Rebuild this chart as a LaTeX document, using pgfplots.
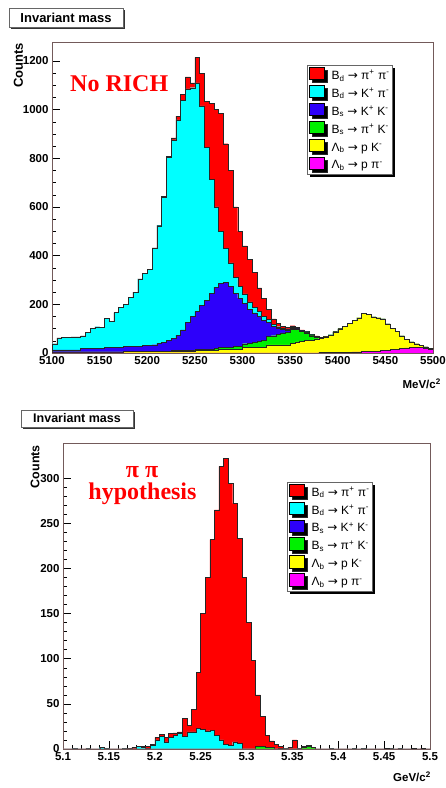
\documentclass[border=0pt]{standalone}
\usepackage{pgfplots}
\pgfplotsset{compat=1.18}
\usepackage{pgfplotstable}
\usepackage{fontspec}
\setmainfont{Liberation Sans}
\newfontfamily\serifbold{Liberation Serif}
\newfontfamily\symfont{DejaVu Sans}
\usetikzlibrary{shadows}

\definecolor{hred}{RGB}{255,0,0}
\definecolor{hcyan}{RGB}{0,255,255}
\definecolor{hblue}{RGB}{45,0,250}
\definecolor{hgreen}{RGB}{0,240,0}
\definecolor{hyellow}{RGB}{255,255,0}
\definecolor{hmagenta}{RGB}{255,0,255}
\definecolor{framec}{RGB}{115,90,90}

\newcommand{\arr}{{\symfont →}}
\newcommand{\sub}[1]{\textsubscript{#1}}
\newcommand{\sups}[1]{\textsuperscript{#1}}

% Stacked invariant-mass histograms, 5 MeV bins (left bin edges); last row closes the final bin.
% columns: m = Lb->p pi, y = Lb->p K, g = Bs->pi K, b = Bs->K K, c = Bd->K pi, r = Bd->pi pi
\pgfplotstableread{
x m y g b c r
5100 0 5 0 8 25 0
5105 0 5 0 8 49 0
5110 0 5 0 8 51 0
5115 0 5 0 8 50 0
5120 0 5 0 8 53 0
5125 0 5 0 8 53 0
5130 0 5 0 13 52 0
5135 0 5 0 13 66 0
5140 0 5 0 13 82 0
5145 0 5 0 13 90 0
5150 0 5 0 13 88 0
5155 0 5 0 17 120 0
5160 0 5 0 17 108 0
5165 0 5 0 17 144 0
5170 0 5 0 17 166 0
5175 1 5 0 20 174 0
5180 1 5 0 20 202 0
5185 1 5 0 20 224 0
5190 1 5 0 20 279 0
5195 1 5 0 24 298 0
5200 1 7 0 22 315 0
5205 1 7 0 26 398 0
5210 1 7 0 32 483 2
5215 1 7 0 37 596 3
5220 1 7 0 44 751 5
5225 1 7 2 50 816 8
5230 1 7 2 62 886 15
5235 1 7 2 85 942 25
5240 1 7 2 115 960 50
5245 1 7 2 140 940 20
5250 1 10 4 155 940 105
5255 1 10 4 180 820 135
5260 1 10 4 200 630 190
5265 1 10 4 230 470 310
5270 1 10 7 252 330 400
5275 1 15 7 262 215 485
5280 1 15 7 267 140 430
5285 1 15 7 252 95 380
5290 1 15 10 219 65 290
5295 1 15 12 197 48 227
5300 1 22 15 167 38 197
5305 1 22 18 139 30 175
5310 1 22 22 120 24 141
5315 1 22 26 101 20 98
5320 1 22 30 82 16 74
5325 1 32 34 58 12 43
5330 1 32 38 39 9 21
5335 1 32 44 25 6 15
5340 1 32 50 14 5 8
5345 1 32 53 9 4 7
5350 1 40 55 5 3 8
5355 1 45 50 3 3 3
5360 1 48 40 2 2 2
5365 1 50 32 2 2 1
5370 1 52 18 1 2 4
5375 1 55 8 1 2 3
5380 2 58 3 1 1 0
5385 2 64 1 0 1 0
5390 3 71 0 0 1 0
5395 3 84 0 0 1 0
5400 3 96 0 0 1 0
5405 4 106 0 0 0 0
5410 4 118 0 0 0 0
5415 5 130 0 0 0 0
5420 5 140 0 0 0 0
5425 6 156 0 0 0 0
5430 6 152 0 0 0 0
5435 7 141 0 0 0 0
5440 8 137 0 0 0 0
5445 10 130 0 0 0 0
5450 12 108 0 0 0 0
5455 14 86 0 0 0 0
5460 16 72 0 0 0 0
5465 19 51 0 0 0 0
5470 21 35 0 0 0 0
5475 22 24 0 0 0 0
5480 23 15 0 0 0 0
5485 22 9 0 0 0 0
5490 20 5 0 0 0 0
5495 16 3 0 0 0 0
5500 16 3 0 0 0 0
}\norich

% Same channels, pi pi mass hypothesis with particle identification, GeV
\pgfplotstableread{
x m y g b c r
5.100 0 0 0 0 0 0
5.105 0 0 0 0 0 0
5.110 0 0 0 0 0 1
5.115 0 0 0 0 0 0
5.120 0 0 0 0 0 0
5.125 0 0 0 0 0 1
5.130 0 0 0 0 0 0
5.135 0 0 0 0 0 0
5.140 0 0 0 0 2 0
5.145 0 0 0 0 0 1
5.150 0 0 0 0 0 0
5.155 0 0 0 0 0 0
5.160 0 0 0 0 0 0
5.165 0 0 0 0 0 1
5.170 0 0 0 0 1 0
5.175 0 0 0 0 0 2
5.180 0 0 0 0 3 0
5.185 0 0 0 0 2 1
5.190 0 0 0 0 1 2
5.195 0 0 0 0 4 1
5.200 0 0 0 0 10 3
5.205 0 0 0 0 14 2
5.210 0 0 0 0 8 5
5.215 0 0 0 0 13 4
5.220 0 0 0 0 15 3
5.225 0 0 0 0 17 2
5.230 0 0 0 0 14 20
5.235 0 0 0 0 19 7
5.240 0 0 0 0 19 25
5.245 0 0 0 0 23 62
5.250 0 0 0 0 22 128
5.255 0 0 0 0 20 170
5.260 0 0 0 0 21 211
5.265 0 0 0 0 15 250
5.270 0 0 0 0 10 303
5.275 0 0 0 0 5 317
5.280 0 0 0 0 4 290
5.285 0 0 0 0 8 264
5.290 0 0 0 0 6 227
5.295 0 0 0 0 0 190
5.300 0 0 0 0 0 140
5.305 0 0 0 0 0 98
5.310 0 0 3 0 0 57
5.315 0 0 3 0 0 33
5.320 0 0 2 0 0 13
5.325 0 0 2 0 0 7
5.330 0 0 0 0 0 5
5.335 0 0 1 0 0 2
5.340 0 0 0 0 0 1
5.345 0 0 0 0 0 2
5.350 0 0 0 0 0 10
5.355 0 0 0 0 0 1
5.360 0 0 2 0 0 1
5.365 0 0 3 0 0 1
5.370 0 0 2 0 0 0
5.375 0 0 0 0 0 0
5.380 0 0 0 0 0 0
5.385 0 0 0 0 0 0
5.390 0 0 0 0 0 1
5.395 0 0 0 0 0 0
5.400 0 0 0 0 0 0
5.405 0 0 0 0 0 0
5.410 0 0 0 0 0 0
5.415 0 0 0 0 0 1
5.420 0 0 0 0 0 0
5.425 0 0 0 0 0 1
5.430 0 0 0 0 0 0
5.435 0 0 0 0 0 0
5.440 0 0 0 0 0 0
5.445 0 0 0 0 0 0
5.450 1 0 0 0 0 0
5.455 0 0 0 0 0 1
5.460 0 0 0 0 0 0
5.465 0 0 0 0 0 1
5.470 0 0 0 0 0 0
5.475 0 0 0 0 0 0
5.480 1 0 0 0 0 0
5.485 0 0 0 0 0 0
5.490 1 0 0 0 0 0
5.495 0 0 0 0 0 0
5.500 0 0 0 0 0 0
}\pipi

\pgfplotsset{
  rootaxis/.style={
    scale only axis,
    axis line style={framec, line width=0.8pt},
    tick style={black, line width=0.5pt},
    tick align=inside,
    tick pos=left,
    major tick length=8pt,
    minor tick length=4pt,
    ticklabel style={font=\fontsize{11.5}{12}\selectfont\bfseries},
    /pgf/number format/assume math mode=true,
    /pgf/number format/1000 sep={},
    scaled ticks=false,
    const plot,
    stack plots=y,
    every axis plot/.append style={draw=black!85, line width=0.4pt},
    reverse legend,
    legend cell align=left,
    legend style={draw=black!60, fill=white, line width=0.5pt,
      font=\fontsize{12}{13}\selectfont,
      drop shadow={shadow xshift=3pt, shadow yshift=-3pt, fill=black, opacity=1},
      inner xsep=2pt, inner ysep=1.5pt, row sep=1.5pt, column sep=3pt,
      nodes={text height=9.5pt, text depth=3pt, inner sep=1pt}},
    legend image code/.code={\draw[#1, draw=black, line width=0.4pt] (-1pt,-3.5pt) rectangle (14pt,9pt);},
  }
}

\newcommand{\channellegend}{%
  \legend{\hspace*{3pt}Λ\sub{b} \arr{} p π\sups{-},
          \hspace*{3pt}Λ\sub{b} \arr{} p K\sups{-},
          \hspace*{3pt}B\sub{s} \arr{} π\sups{+} K\sups{-},
          \hspace*{3pt}B\sub{s} \arr{} K\sups{+} K\sups{-},
          \hspace*{3pt}B\sub{d} \arr{} K\sups{+} π\sups{-},
          \hspace*{3pt}B\sub{d} \arr{} π\sups{+} π\sups{-}}}

\begin{document}
\begin{tikzpicture}[x=1pt,y=1pt]
\path[use as bounding box] (0,0) rectangle (446,788);

% ---------------- upper panel: no RICH ----------------
\begin{axis}[rootaxis,
  at={(52pt,435pt)}, anchor=south west,
  width=381pt, height=311pt,
  xmin=5100, xmax=5500, ymin=0, ymax=1278,
  xtick={5100,5150,...,5500}, ytick={0,200,...,1200},
  minor x tick num=4, minor y tick num=3,
  legend style={at={(0.669,0.926)}, anchor=north west}]
\addplot[fill=hmagenta] table[x=x,y=m]{\norich} \closedcycle;
\addplot[fill=hyellow]  table[x=x,y=y]{\norich} \closedcycle;
\addplot[fill=hgreen]   table[x=x,y=g]{\norich} \closedcycle;
\addplot[fill=hblue]    table[x=x,y=b]{\norich} \closedcycle;
\addplot[fill=hcyan]    table[x=x,y=c]{\norich} \closedcycle;
\addplot[fill=hred]     table[x=x,y=r]{\norich} \closedcycle;
\channellegend
\end{axis}

% ---------------- lower panel: pi pi hypothesis ----------------
\begin{axis}[rootaxis,
  at={(63pt,39pt)}, anchor=south west,
  width=367pt, height=306pt,
  xmin=5.1, xmax=5.5, ymin=0, ymax=339,
  xtick={5.1,5.15,5.2,5.25,5.3,5.35,5.4,5.45,5.5}, ytick={0,50,...,300},
  minor x tick num=4, minor y tick num=4,
  legend style={at={(0.610,0.873)}, anchor=north west}]
\addplot[fill=hmagenta] table[x=x,y=m]{\pipi} \closedcycle;
\addplot[fill=hyellow]  table[x=x,y=y]{\pipi} \closedcycle;
\addplot[fill=hgreen]   table[x=x,y=g]{\pipi} \closedcycle;
\addplot[fill=hblue]    table[x=x,y=b]{\pipi} \closedcycle;
\addplot[fill=hcyan]    table[x=x,y=c]{\pipi} \closedcycle;
\addplot[fill=hred]     table[x=x,y=r]{\pipi} \closedcycle;
\channellegend
\end{axis}

% title boxes
\fill[black!80] (11,759) rectangle (125,778);
\draw[black!60, fill=white, line width=0.5pt] (9,761) rectangle (123,780);
\node[font=\fontsize{13}{13}\selectfont\bfseries, inner sep=0] at (66,770.5) {Invariant mass};
\fill[black!80] (23,359) rectangle (135,376);
\draw[black!60, fill=white, line width=0.5pt] (21,361) rectangle (133,378);
\node[font=\fontsize{12.5}{12.5}\selectfont\bfseries, inner sep=0] at (77,369.5) {Invariant mass};

% axis titles
\node[rotate=90, anchor=east, inner sep=0, font=\fontsize{13}{13}\selectfont\bfseries] at (18.5,745) {Counts};
\node[rotate=90, anchor=east, inner sep=0, font=\fontsize{12.5}{12.5}\selectfont\bfseries] at (35,343) {Counts};
\node[anchor=east, inner sep=0, font=\fontsize{11.5}{12}\selectfont\bfseries] at (441,404) {MeV/c\textsuperscript{2}};
\node[anchor=east, inner sep=0, font=\fontsize{11.5}{12}\selectfont\bfseries] at (431,11) {GeV/c\textsuperscript{2}};

% panel captions
\node[anchor=base west, inner sep=0, text=hred, font=\serifbold\bfseries\fontsize{24}{24}\selectfont] at (70,696) {No RICH};
\node[anchor=base, inner sep=0, text=hred, font=\serifbold\bfseries\fontsize{24}{24}\selectfont] at (142,310) {π π};
\node[anchor=base, inner sep=0, text=hred, font=\serifbold\bfseries\fontsize{24}{24}\selectfont] at (142.5,288) {hypothesis};
\end{tikzpicture}
\end{document}
